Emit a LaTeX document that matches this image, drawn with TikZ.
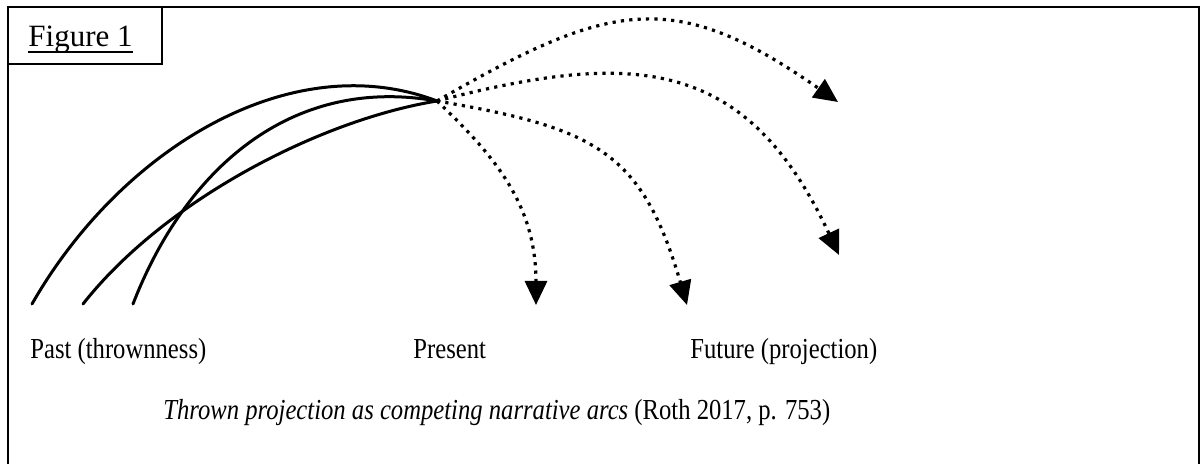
\documentclass[tikz,border=0pt]{standalone}
\usepackage{fontspec}
\setmainfont[FakeStretch=0.85]{Liberation Serif}
\newfontfamily\tabfont{Liberation Serif}
\usetikzlibrary{arrows.meta}
\tikzset{
  border/.style={line width=1pt},
  pastarc/.style={line width=1.5pt, line cap=round},
  dotarr/.style={line width=1.6pt, dash pattern=on 1.6pt off 2.6pt,
    -{Triangle[length=12pt, width=11pt]}},
  lbl/.style={anchor=base west, inner sep=0pt, font=\fontsize{14.5}{17}\selectfont},
}
\begin{document}
\begin{tikzpicture}[x=0.5pt, y=-0.5pt]
    \useasboundingbox (0,0) rectangle (1200,464);
    % frame and figure tab
    \draw[border] (8,464) -- (8,7) -- (1199,7) -- (1199,464);
    \draw[line width=0.75pt] (8,64) -- (162,64) -- (162,7);
    \node[lbl, font=\tabfont\fontsize{15.5}{18}\selectfont] (fig) at (28,47) {Figure 1};
    \draw[line width=0.8pt] ([yshift=-2.5pt]fig.base west) -- ([yshift=-2.5pt]fig.base east);

    % arcs from the past
    \coordinate (now) at (437,101);
    \coordinate (pastA) at (32,304);
    \coordinate (pastB) at (133,304);
    \coordinate (pastC) at (83,304);
    \draw[pastarc] (pastA) .. controls (120,150) and (290,45) .. (now);
    \draw[pastarc] (pastB) .. controls (185,170) and (290,75) .. (now);
    \draw[pastarc] (pastC) .. controls (165,200) and (320,120) .. (now);

    % projections
    \coordinate (futA) at (838,102);
    \coordinate (futB) at (839,255);
    \coordinate (futC) at (687,305);
    \coordinate (futD) at (536,305);
    \draw[dotarr] (now) .. controls (610,1) and (674,-13) .. (futA);
    \draw[dotarr] (now) .. controls (633,50) and (746,56) .. (futB);
    \draw[dotarr] (now) .. controls (595,128) and (642,151) .. (futC);
    \draw[dotarr] (now) .. controls (495,156) and (536,205) .. (futD);

    % labels
    \node[lbl] (past) at (30,359) {Past (thrownness)};
    \node[lbl] (present) at (413,359) {Present};
    \node[lbl] (future) at (690,359) {Future (projection)};
    \node[lbl] (cap) at (163,420) {\textit{Thrown projection as competing narrative arcs} (Roth 2017, p. 753)};
\end{tikzpicture}
\end{document}
